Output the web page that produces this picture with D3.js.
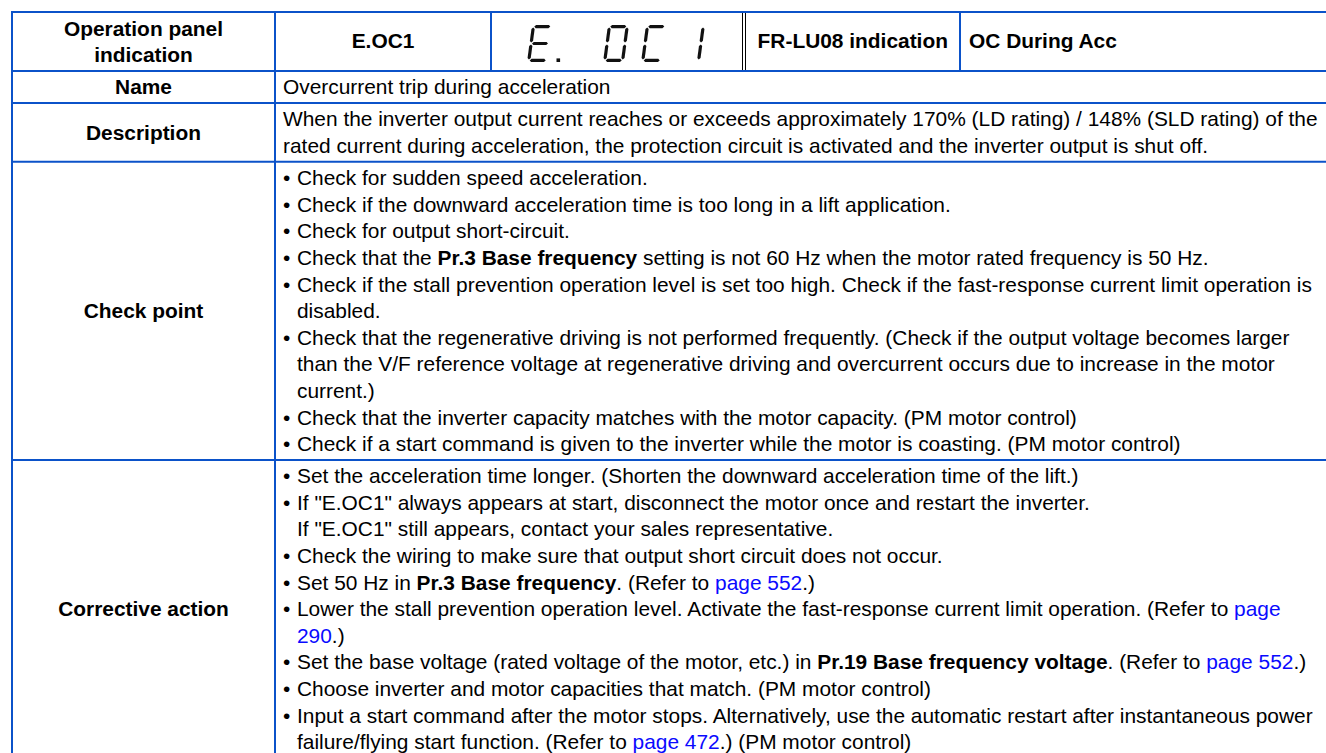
<!DOCTYPE html>
<html><head><meta charset="utf-8">
<script src="https://cdn.jsdelivr.net/npm/d3@7"></script>
<style>
html,body{margin:0;padding:0;background:#fff;}
svg{display:block;}
text{font-family:"Liberation Sans",Arial,sans-serif;white-space:pre;}
</style>
</head><body>
<svg id="c" width="1326" height="753"></svg>
<script>
// ---- data ----
const headerLabel = ["Operation panel", "indication"];
const headerCode = "E.OC1";
const displayChars = ["E", " ", "O", "C", "1"];
const displayDotAfter = 0;
const luLabel = "FR-LU08 indication";
const luText = "OC During Acc";
const rowLabels = ["Name", "Description", "Check point", "Corrective action"];
const nameLines = ["Overcurrent trip during acceleration"];
const descriptionLines = [
  "When the inverter output current reaches or exceeds approximately 170% (LD rating) / 148% (SLD rating) of the",
  "rated current during acceleration, the protection circuit is activated and the inverter output is shut off."
];
const checkLines = [
  "• Check for sudden speed acceleration.",
  "• Check if the downward acceleration time is too long in a lift application.",
  "• Check for output short-circuit.",
  "• Check that the **Pr.3 Base frequency** setting is not 60 Hz when the motor rated frequency is 50 Hz.",
  "• Check if the stall prevention operation level is set too high. Check if the fast-response current limit operation is",
  "> disabled.",
  "• Check that the regenerative driving is not performed frequently. (Check if the output voltage becomes larger",
  "> than the V/F reference voltage at regenerative driving and overcurrent occurs due to increase in the motor",
  "> current.)",
  "• Check that the inverter capacity matches with the motor capacity. (PM motor control)",
  "• Check if a start command is given to the inverter while the motor is coasting. (PM motor control)"
];
const correctiveLines = [
  "• Set the acceleration time longer. (Shorten the downward acceleration time of the lift.)",
  "• If \"E.OC1\" always appears at start, disconnect the motor once and restart the inverter.",
  "> If \"E.OC1\" still appears, contact your sales representative.",
  "• Check the wiring to make sure that output short circuit does not occur.",
  "• Set 50 Hz in **Pr.3 Base frequency**. (Refer to [page 552].)",
  "• Lower the stall prevention operation level. Activate the fast-response current limit operation. (Refer to [page]",
  "> [290].)",
  "• Set the base voltage (rated voltage of the motor, etc.) in **Pr.19 Base frequency voltage**. (Refer to [page 552].)",
  "• Choose inverter and motor capacities that match. (PM motor control)",
  "• Input a start command after the motor stops. Alternatively, use the automatic restart after instantaneous power",
  "> failure/flying start function. (Refer to [page 472].) (PM motor control)"
];
const bodyRows = [nameLines, descriptionLines, checkLines, correctiveLines];

// seven-segment map
const segMap = {"E":"adefg", "O":"abcdef", "C":"adef", "1":"bc", " ":""};

// ---- layout ----
const BLUE = "#0b52c9", LINK = "#0a0aff";
const FS = 20.9, LH = 26.6, PAD = 5.5;
const xL = 12, xC = 275, xR = 1340;
const tableTop = 12, headerH = 59;
const xCode = 491, xDbl1 = 742.5, xDbl2 = 745.5, xLu = 960;

const svg = d3.select("#c");

const rowH = bodyRows.map(r => r.length * LH + PAD);
const rowTops = [tableTop + headerH].concat(Array.from(d3.cumsum(rowH)).map(v => tableTop + headerH + v));
function lineY(rowIdx, i) {
  const s = d3.scaleLinear().domain([0, 1]).range([rowTops[rowIdx] + PAD / 2 + LH / 2, rowTops[rowIdx] + PAD / 2 + LH * 1.5]);
  return s(i);
}

function addRich(sel, str) {
  const parts = str.split(/(\*\*[^*]+\*\*|\[[^\]]+\])/).filter(p => p.length);
  parts.forEach(p => {
    let t = p, w = "normal", f = "#000";
    if (p.startsWith("**")) { t = p.slice(2, -2); w = "bold"; }
    else if (p.startsWith("[")) { t = p.slice(1, -1); f = LINK; }
    sel.append("tspan").attr("font-weight", w).attr("fill", f).text(t);
  });
}

const g = svg.append("g");

// header row
const hy = tableTop + headerH / 2;
g.selectAll("text.hl").data(headerLabel).join("text").attr("class", "hl")
  .attr("x", (xL + xC) / 2).attr("y", (d, i) => hy + (i - 0.5) * 25.5).attr("dy", "0.35em")
  .attr("text-anchor", "middle").attr("font-weight", "bold").attr("font-size", FS).text(d => d);
g.append("text").attr("x", (xC + xCode) / 2).attr("y", hy - 1).attr("dy", "0.35em")
  .attr("text-anchor", "middle").attr("font-weight", "bold").attr("font-size", FS).text(headerCode);
g.append("text").attr("x", (xDbl2 + xLu) / 2).attr("y", hy - 1).attr("dy", "0.35em")
  .attr("text-anchor", "middle").attr("font-weight", "bold").attr("font-size", FS).text(luLabel);
g.append("text").attr("x", xLu + 9).attr("y", hy - 1).attr("dy", "0.35em")
  .attr("font-weight", "bold").attr("font-size", FS).text(luText);

// seven segment display
const dW = 21, dH = 37, dT = 3.2, gap = 0.9, slant = 5 / 37;
const dScale = d3.scalePoint().domain(d3.range(displayChars.length)).range([527, 527 + 38 * (displayChars.length - 1)]);
const dTop = 25;
function segPoly(seg) {
  const t = dT, h2 = t / 2;
  const xl = h2, xr = dW - h2, yt = h2, ym = dH / 2, yb = dH - h2;
  const hor = (x1, x2, y) => [[x1 + gap, y], [x1 + gap + h2, y - h2], [x2 - gap - h2, y - h2], [x2 - gap, y], [x2 - gap - h2, y + h2], [x1 + gap + h2, y + h2]];
  const ver = (x, y1, y2) => [[x, y1 + gap], [x + h2, y1 + gap + h2], [x + h2, y2 - gap - h2], [x, y2 - gap], [x - h2, y2 - gap - h2], [x - h2, y1 + gap + h2]];
  switch (seg) {
    case "a": return hor(xl, xr, yt);
    case "d": return hor(xl, xr, yb);
    case "g": return hor(xl, xr, ym);
    case "f": return ver(xl, yt, ym);
    case "e": return ver(xl, ym, yb);
    case "b": return ver(xr, yt, ym);
    case "c": return ver(xr, ym, yb);
  }
}
const disp = g.append("g");
displayChars.forEach((ch, i) => {
  const x0 = dScale(i);
  const segs = segMap[ch].split("").filter(s => s);
  disp.selectAll(null).data(segs).join("polygon")
    .attr("points", s => segPoly(s).map(([x, y]) => [x0 + x + (dH - y) * slant, dTop + y].join(",")).join(" "))
    .attr("fill", "#111");
  if (i === displayDotAfter) {
    disp.append("rect").attr("x", x0 + dW + 8.5).attr("y", dTop + dH - 3.6).attr("width", 3.6).attr("height", 3.6).attr("fill", "#111");
  }
});

// body rows
bodyRows.forEach((lines, r) => {
  const rt = rowTops[r], rb = rowTops[r + 1];
  g.append("text").attr("x", (xL + xC) / 2).attr("y", (rt + rb) / 2).attr("dy", "0.35em")
    .attr("text-anchor", "middle").attr("font-weight", "bold").attr("font-size", FS).text(rowLabels[r]);
  lines.forEach((ln, i) => {
    const y = lineY(r, i);
    let str = ln, x = 283;
    if (ln.startsWith("• ")) {
      g.append("text").attr("x", 283).attr("y", y).attr("dy", "0.35em").attr("font-size", FS).text("•");
      str = ln.slice(2); x = 297;
    } else if (ln.startsWith("> ")) {
      str = ln.slice(2); x = 297;
    }
    const t = g.append("text").attr("x", x).attr("y", y).attr("dy", "0.35em").attr("font-size", FS);
    addRich(t, str);
  });
});

// borders
const hLines = [tableTop].concat(rowTops);
g.selectAll("line.h").data(hLines).join("line").attr("class", "h")
  .attr("x1", xL - 1).attr("x2", xR).attr("y1", d => d).attr("y2", d => d)
  .attr("stroke", BLUE).attr("stroke-width", 2);
const bottom = rowTops[rowTops.length - 1];
g.selectAll("line.v").data([xL, xC]).join("line").attr("class", "v")
  .attr("x1", d => d).attr("x2", d => d).attr("y1", tableTop).attr("y2", bottom)
  .attr("stroke", BLUE).attr("stroke-width", 2);
g.selectAll("line.vh").data([xCode, xLu]).join("line").attr("class", "vh")
  .attr("x1", d => d).attr("x2", d => d).attr("y1", tableTop).attr("y2", tableTop + headerH)
  .attr("stroke", BLUE).attr("stroke-width", 2);
g.selectAll("line.vd").data([xDbl1, xDbl2]).join("line").attr("class", "vd")
  .attr("x1", d => d).attr("x2", d => d).attr("y1", tableTop + 1).attr("y2", tableTop + headerH - 1)
  .attr("stroke", "#000").attr("stroke-width", 1);
</script>
</body></html>
